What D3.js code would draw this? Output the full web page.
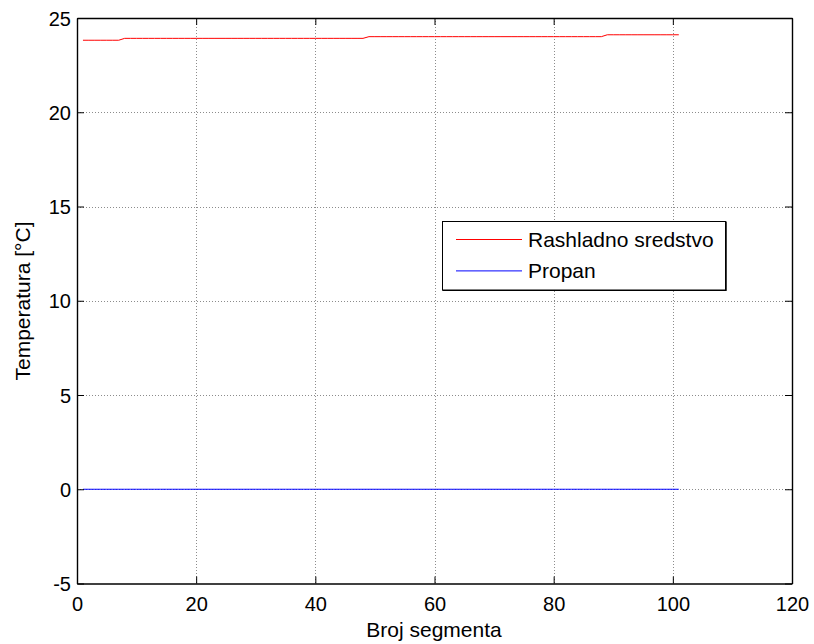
<!DOCTYPE html>
<html>
<head>
<meta charset="utf-8">
<script src="https://cdn.jsdelivr.net/npm/d3@7"></script>
<style>
  html, body { margin: 0; padding: 0; background: #fff; }
  svg { display: block; font-family: "Liberation Sans", Arial, sans-serif; }
</style>
</head>
<body>
<svg id="chart" width="814" height="644"></svg>
<script>
// ---- Data ----
const segments = [
  1, 2, 3, 4, 5, 6, 7, 8, 9, 10,
  11, 12, 13, 14, 15, 16, 17, 18, 19, 20,
  21, 22, 23, 24, 25, 26, 27, 28, 29, 30,
  31, 32, 33, 34, 35, 36, 37, 38, 39, 40,
  41, 42, 43, 44, 45, 46, 47, 48, 49, 50,
  51, 52, 53, 54, 55, 56, 57, 58, 59, 60,
  61, 62, 63, 64, 65, 66, 67, 68, 69, 70,
  71, 72, 73, 74, 75, 76, 77, 78, 79, 80,
  81, 82, 83, 84, 85, 86, 87, 88, 89, 90,
  91, 92, 93, 94, 95, 96, 97, 98, 99, 100,
  101
];
const rashladnoSredstvo = [
  23.82, 23.82, 23.82, 23.82, 23.82, 23.82, 23.82, 23.92, 23.92, 23.92,
  23.92, 23.92, 23.92, 23.92, 23.92, 23.92, 23.92, 23.92, 23.92, 23.92,
  23.92, 23.92, 23.92, 23.92, 23.92, 23.92, 23.92, 23.92, 23.92, 23.92,
  23.92, 23.92, 23.92, 23.92, 23.92, 23.92, 23.92, 23.92, 23.92, 23.92,
  23.92, 23.92, 23.92, 23.92, 23.92, 23.92, 23.92, 23.92, 24.01, 24.01,
  24.01, 24.01, 24.01, 24.01, 24.01, 24.01, 24.01, 24.01, 24.01, 24.01,
  24.01, 24.01, 24.01, 24.01, 24.01, 24.01, 24.01, 24.01, 24.01, 24.01,
  24.01, 24.01, 24.01, 24.01, 24.01, 24.01, 24.01, 24.01, 24.01, 24.01,
  24.01, 24.01, 24.01, 24.01, 24.01, 24.01, 24.01, 24.01, 24.11, 24.11,
  24.11, 24.11, 24.11, 24.11, 24.11, 24.11, 24.11, 24.11, 24.11, 24.11,
  24.11
];
const propan = [
  0, 0, 0, 0, 0, 0, 0, 0, 0, 0,
  0, 0, 0, 0, 0, 0, 0, 0, 0, 0,
  0, 0, 0, 0, 0, 0, 0, 0, 0, 0,
  0, 0, 0, 0, 0, 0, 0, 0, 0, 0,
  0, 0, 0, 0, 0, 0, 0, 0, 0, 0,
  0, 0, 0, 0, 0, 0, 0, 0, 0, 0,
  0, 0, 0, 0, 0, 0, 0, 0, 0, 0,
  0, 0, 0, 0, 0, 0, 0, 0, 0, 0,
  0, 0, 0, 0, 0, 0, 0, 0, 0, 0,
  0, 0, 0, 0, 0, 0, 0, 0, 0, 0,
  0
];
const xTicks = [0, 20, 40, 60, 80, 100, 120];
const yTicks = [-5, 0, 5, 10, 15, 20, 25];
const seriesNames = ["Rashladno sredstvo", "Propan"];
const seriesColors = ["#ff0000", "#0000ff"];
const xLabel = "Broj segmenta";
const yLabel = "Temperatura [°C]";

// ---- Layout ----
const L = 77, R = 792, T = 18, B = 583.5;
const svg = d3.select("#chart");
const x = d3.scaleLinear().domain([0, 120]).range([L, R]);
const y = d3.scaleLinear().domain([-5, 25]).range([B, T]);
const tickLen = 7;
const fmt = d => String(d);

// grid
const grid = svg.append("g");
grid.selectAll("line.gx").data(xTicks.slice(1, -1)).join("line")
  .attr("x1", d => Math.round(x(d)) + 0.5).attr("x2", d => Math.round(x(d)) + 0.5)
  .attr("y1", T).attr("y2", B)
  .attr("stroke", "#8c8c8c").attr("stroke-width", 1).attr("stroke-dasharray", "1,2");
grid.selectAll("line.gy").data(yTicks.slice(1, -1)).join("line")
  .attr("y1", d => Math.round(y(d)) + 0.5).attr("y2", d => Math.round(y(d)) + 0.5)
  .attr("x1", L).attr("x2", R)
  .attr("stroke", "#8c8c8c").attr("stroke-width", 1).attr("stroke-dasharray", "1,2");

// lines
const series = [rashladnoSredstvo, propan];
const line = d3.line().x((d, i) => x(segments[i])).y(d => y(d));
series.forEach((s, k) => {
  svg.append("path").datum(s)
    .attr("d", line)
    .attr("fill", "none")
    .attr("stroke", seriesColors[k])
    .attr("stroke-width", 1);
});

// axes (MATLAB box with inward ticks)
const axB = d3.axisBottom(x).tickValues(xTicks).tickFormat(fmt).tickSizeInner(-tickLen).tickSizeOuter(0).tickPadding(14);
const axT = d3.axisTop(x).tickValues(xTicks).tickSizeInner(-tickLen).tickSizeOuter(0).tickFormat("");
const axL = d3.axisLeft(y).tickValues(yTicks).tickFormat(fmt).tickSizeInner(-tickLen).tickSizeOuter(0).tickPadding(14);
const axR = d3.axisRight(y).tickValues(yTicks).tickSizeInner(-tickLen).tickSizeOuter(0).tickFormat("");

function styleAxis(g) {
  g.select(".domain").attr("stroke", "#000").attr("stroke-width", 1.4);
  g.selectAll(".tick line").attr("stroke", "#000").attr("stroke-width", 1);
  g.selectAll(".tick text").attr("fill", "#000").style("font-size", "20px")
    .style("font-family", "'Liberation Sans', Arial, sans-serif");
}
svg.append("g").attr("transform", `translate(0,${B})`).call(axB).call(styleAxis)
  .selectAll(".tick text").attr("dy", null).attr("y", 27);
svg.append("g").attr("transform", `translate(0,${T})`).call(axT).call(styleAxis);
svg.append("g").attr("transform", `translate(${L},0)`).call(axL).call(styleAxis)
  .selectAll(".tick text").attr("x", -6).attr("dy", "0.36em");
svg.append("g").attr("transform", `translate(${R},0)`).call(axR).call(styleAxis);

// axis labels
svg.append("text").attr("x", 434).attr("y", 637).attr("text-anchor", "middle")
  .style("font-size", "21px").attr("fill", "#000").text(xLabel);
svg.append("text").attr("transform", "translate(30,301) rotate(-90)")
  .attr("text-anchor", "middle").style("font-size", "21px").attr("fill", "#000").text(yLabel);

// legend
const lg = svg.append("g");
const lgX = 442.5, lgY = 221.5, lgW = 283, lgH = 68.5;
lg.append("rect").attr("x", lgX).attr("y", lgY).attr("width", lgW).attr("height", lgH)
  .attr("fill", "#fff").attr("stroke", "#000").attr("stroke-width", 1);
lg.append("line").attr("x1", lgX + lgW + 0.5).attr("x2", lgX + lgW + 0.5)
  .attr("y1", lgY).attr("y2", lgY + lgH + 0.5).attr("stroke", "#000").attr("stroke-width", 1.5);
lg.append("line").attr("x1", lgX).attr("x2", lgX + lgW + 1)
  .attr("y1", lgY + lgH + 0.5).attr("y2", lgY + lgH + 0.5).attr("stroke", "#000").attr("stroke-width", 1);
seriesNames.forEach((name, k) => {
  const yy = lgY + 18 + k * 31.4;
  lg.append("line").attr("x1", 456).attr("x2", 522).attr("y1", yy).attr("y2", yy)
    .attr("stroke", seriesColors[k]).attr("stroke-width", 1);
  lg.append("text").attr("x", 528).attr("y", yy).attr("dy", "0.36em")
    .style("font-size", "21px").attr("fill", "#000").text(name);
});
</script>
</body>
</html>
